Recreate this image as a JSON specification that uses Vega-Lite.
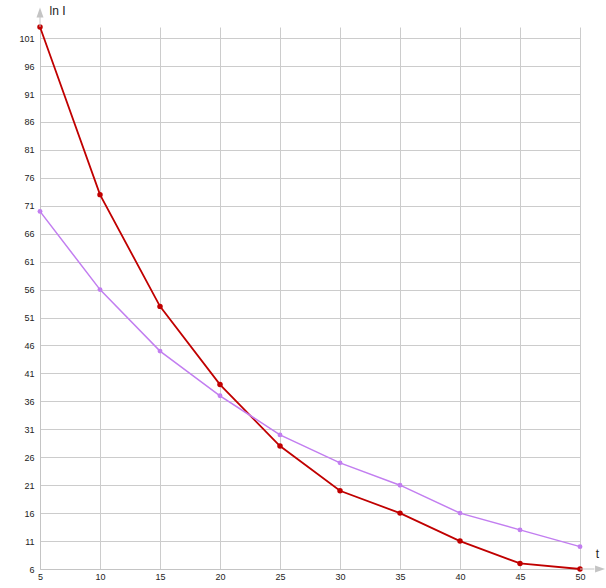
{
  "$schema": "https://vega.github.io/schema/vega-lite/v6.json",
  "description": "Two decay curves of ln I against t.",
  "autosize": {"type": "none"},
  "padding": {"left": 40, "top": 27, "right": 26, "bottom": 19},
  "width": 540,
  "height": 542,
  "background": "white",
  "datasets": {
    "curves": [
      {"t": 5, "lnI": 103, "series": "A"},
      {"t": 10, "lnI": 73, "series": "A"},
      {"t": 15, "lnI": 53, "series": "A"},
      {"t": 20, "lnI": 39, "series": "A"},
      {"t": 25, "lnI": 28, "series": "A"},
      {"t": 30, "lnI": 20, "series": "A"},
      {"t": 35, "lnI": 16, "series": "A"},
      {"t": 40, "lnI": 11, "series": "A"},
      {"t": 45, "lnI": 7, "series": "A"},
      {"t": 50, "lnI": 6, "series": "A"},
      {"t": 5, "lnI": 70, "series": "B"},
      {"t": 10, "lnI": 56, "series": "B"},
      {"t": 15, "lnI": 45, "series": "B"},
      {"t": 20, "lnI": 37, "series": "B"},
      {"t": 25, "lnI": 30, "series": "B"},
      {"t": 30, "lnI": 25, "series": "B"},
      {"t": 35, "lnI": 21, "series": "B"},
      {"t": 40, "lnI": 16, "series": "B"},
      {"t": 45, "lnI": 13, "series": "B"},
      {"t": 50, "lnI": 10, "series": "B"}
    ],
    "axisExt": [
      {"t": 5, "lnI": 103, "t2": 5, "lnI2": 105.5},
      {"t": 50, "lnI": 6, "t2": 51.2, "lnI2": 6}
    ],
    "arrows": [
      {"t": 5, "lnI": 105.6, "dir": "up"},
      {"t": 51.67, "lnI": 6, "dir": "right"}
    ]
  },
  "layer": [
    {
      "data": {"name": "curves"},
      "mark": {"type": "line", "point": false},
      "encoding": {
        "x": {
          "field": "t",
          "type": "quantitative",
          "scale": {"domain": [5, 50], "nice": false, "zero": false},
          "axis": {
            "values": [5, 10, 15, 20, 25, 30, 35, 40, 45, 50],
            "tickCount": 20,
            "title": "t",
            "titleAngle": 0,
            "titleX": 557,
            "titleY": -16,
            "titleAlign": "center",
            "titleBaseline": "middle",
            "labelPadding": 3
          }
        },
        "y": {
          "field": "lnI",
          "type": "quantitative",
          "scale": {"domain": [6, 103], "nice": false, "zero": false},
          "axis": {
            "values": [6, 11, 16, 21, 26, 31, 36, 41, 46, 51, 56, 61, 66, 71, 76, 81, 86, 91, 96, 101],
            "tickCount": 40,
            "title": "ln I",
            "titleAngle": 0,
            "titleX": 9,
            "titleY": -17,
            "titleAlign": "left",
            "titleBaseline": "middle",
            "labelPadding": 6
          }
        },
        "color": {
          "field": "series",
          "type": "nominal",
          "scale": {"domain": ["A", "B"], "range": ["#c00000", "#c27ef0"]},
          "legend": null
        },
        "strokeWidth": {
          "field": "series",
          "type": "nominal",
          "scale": {"domain": ["A", "B"], "range": [1.8, 1.5]},
          "legend": null
        }
      }
    },
    {
      "data": {"name": "curves"},
      "mark": {"type": "point", "filled": true, "opacity": 1, "shape": "circle"},
      "encoding": {
        "x": {"field": "t", "type": "quantitative"},
        "y": {"field": "lnI", "type": "quantitative"},
        "color": {"field": "series", "type": "nominal", "legend": null},
        "size": {
          "field": "series",
          "type": "nominal",
          "scale": {"domain": ["A", "B"], "range": [30, 24]},
          "legend": null
        }
      }
    },
    {
      "data": {"name": "axisExt"},
      "mark": {"type": "rule", "color": "#c4c4c4", "strokeWidth": 1},
      "encoding": {
        "x": {"field": "t", "type": "quantitative"},
        "y": {"field": "lnI", "type": "quantitative"},
        "x2": {"field": "t2"},
        "y2": {"field": "lnI2"}
      }
    },
    {
      "data": {"name": "arrows"},
      "mark": {"type": "point", "filled": true, "opacity": 1, "color": "#c4c4c4", "size": 100},
      "encoding": {
        "x": {"field": "t", "type": "quantitative"},
        "y": {"field": "lnI", "type": "quantitative"},
        "shape": {
          "field": "dir",
          "type": "nominal",
          "scale": {
            "domain": ["up", "right"],
            "range": ["M0,-1L0.7,1L-0.7,1Z", "M1,0L-1,0.7L-1,-0.7Z"]
          },
          "legend": null
        }
      }
    }
  ],
  "config": {
    "view": {"stroke": null},
    "axis": {
      "domainColor": "#c4c4c4",
      "domainWidth": 1,
      "gridColor": "#cccccc",
      "gridWidth": 1,
      "ticks": false,
      "labelOverlap": false,
      "labelFlush": false,
      "labelBound": false,
      "labelFont": "Liberation Sans",
      "labelFontSize": 9,
      "labelColor": "#222222",
      "titleFont": "Liberation Sans",
      "titleFontSize": 12,
      "titleFontWeight": "normal",
      "titleColor": "#222222"
    }
  }
}
